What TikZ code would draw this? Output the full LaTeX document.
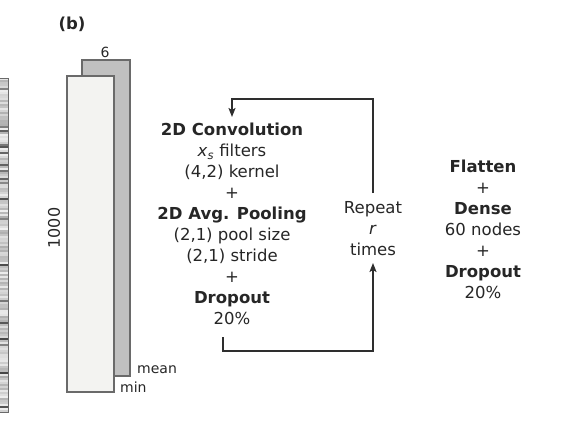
\documentclass[tikz,border=0pt]{standalone}
\usepackage{fontspec}
\setmainfont{DejaVu Sans}
\usetikzlibrary{arrows.meta}
\definecolor{txt}{HTML}{262626}
\definecolor{edge}{HTML}{6A6A6A}
\definecolor{backfill}{HTML}{C0C0C0}
\definecolor{frontfill}{HTML}{F3F3F1}
\definecolor{loopc}{HTML}{2E2E2E}
\begin{document}
\begin{tikzpicture}[x=1pt,y=-1pt,
  body/.style={font=\fontsize{16.5}{21}\selectfont, text=txt, align=center, inner sep=0pt},
  small/.style={font=\fontsize{14}{16}\selectfont, text=txt, inner sep=0pt},
  loopline/.style={draw=loopc, line width=1.6pt},
  arr/.style={loopline, -{Stealth[length=9pt,width=7pt,inset=2pt]}},
  slab/.style={draw=edge, line width=1.1pt}]
\useasboundingbox (0,0) rectangle (568,426);
% striped strip at the left edge
\pgfmathsetseed{7}
\foreach \i in {0,...,166}{
  \pgfmathsetmacro\g{rnd<0.12 ? (45+30*rnd) : (6+26*rnd)}
  \fill[black!\g] (0,{78+2*\i}) rectangle (8,{80+2*\i});
}
\draw[edge, line width=0.8pt] (-1,78) rectangle (8,412);
% panel label
\node[font=\fontsize{16.5}{20}\selectfont\bfseries, text=txt] (lab) at (72,24) {(b)};
% input slabs
\node[slab, fill=backfill, minimum width=48pt, minimum height=316pt, inner sep=0pt] (back) at (106,218) {};
\node[slab, fill=frontfill, minimum width=47pt, minimum height=316pt, inner sep=0pt] (front) at (90.5,234) {};
\node[small] (six) at (105,52) {6};
\node[font=\fontsize{16}{18}\selectfont, text=txt, rotate=90, inner sep=0pt] (thousand) at (54,228) {1000};
\node[small, anchor=west] (mean) at (137,370) {mean};
\node[small, anchor=west] (min) at (120,387) {min};
% convolution block
\node[body] (conv) at (232,224) {\bfseries 2D Convolution\\
  \textit{x}\textsubscript{\textit{s}} filters\\
  (4,2) kernel\\
  +\\
  \bfseries 2D Avg. Pooling\\
  (2,1) pool size\\
  (2,1) stride\\
  +\\
  \bfseries Dropout\\
  20\%};
\node[body] (rep) at (373,229) {Repeat\\ \textit{r}\\ times};
\node[body] (dense) at (483,229) {\bfseries Flatten\\ +\\ \bfseries Dense\\ 60 nodes\\ +\\ \bfseries Dropout\\ 20\%};
% loop
\coordinate (tr) at (373,99);
\coordinate (repTop) at (373,193);
\coordinate (convIn) at (232,117);
\coordinate (convOut) at (223,337);
\coordinate (br) at (373,351);
\coordinate (repBot) at (373,263);
\draw[arr] (repTop) -- (tr) -| (convIn);
\draw[arr] (convOut) |- (br) -- (repBot);
\end{tikzpicture}
\end{document}
